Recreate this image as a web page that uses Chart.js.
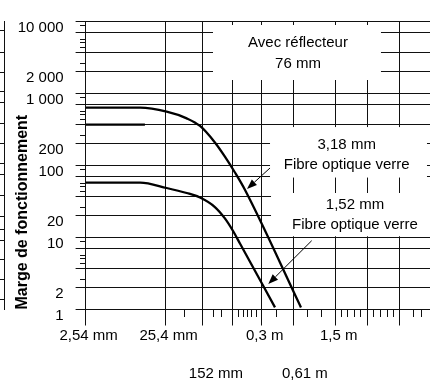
<!DOCTYPE html>
<html><head><meta charset="utf-8">
<script src="https://cdn.jsdelivr.net/npm/chart.js@4"></script>
<style>html,body{margin:0;padding:0;background:#fff}canvas{display:block}</style>
</head><body>
<canvas id="c" width="430" height="382"></canvas>
<script>
// ---------------- data ----------------
const seriesNames = ['3,18 mm Fibre optique verre', '1,52 mm Fibre optique verre', 'Avec réflecteur 76 mm'];
// distance in mm, operating margin (Marge de fonctionnement)
const distanceMM_318 = [2.54, 12.2, 26.2, 46.6, 68.4, 105, 140, 187, 250, 1250];
const margin_318     = [635, 635, 559, 452, 354, 209, 133, 80, 45.7, 1.07];
const distanceMM_152 = [2.54, 12.2, 26.2, 46.6, 68.4, 105, 140, 177, 216, 592];
const margin_152     = [57.7, 57.7, 48.7, 41.5, 35.9, 26.5, 18.4, 12.3, 8.25, 1.07];
const distanceMM_ref = [2.54, 14];
const margin_ref     = [370, 370];

// x axis (distance, mm, logarithmic)
const X_MIN = 2.54, X_MAX = 51270;
const xGridMM     = [2.54, 25.4, 73, 173, 404, 1000, 3400, 8500, 21600];
const xTickLabels = ['2,54 mm', '25,4 mm', '', '', '0,3 m', '', '1,5 m', '', ''];
const xMinorMM    = [44, 100, 128, 210, 238, 267, 300, 350, 610, 1500, 2270, 4040, 4800, 5800, 7000, 10200, 12400, 15000, 17800, 31700, 39600];
const xRow2MM     = [108, 1400];
const xRow2Labels = ['152 mm', '0,61 m'];

// y axis (margin, logarithmic)
const Y_MIN = 1, Y_MAX = 10000;
const yGrid        = [1, 2, 3.7, 7, 10, 20, 37, 70, 100, 200, 370, 700, 1000, 2000, 3700, 7000, 10000];
const yLabelValues = [1, 2, 10, 20, 100, 200, 1000, 2000, 10000];
const yLabelTexts  = ['1', '2', '10', '20', '100', '200', '1 000', '2 000', '10 000'];
const yMinor       = [2.65, 4.4, 5.1, 5.7, 8.7, 26.5, 44, 51, 57, 87, 265, 440, 510, 570, 870, 2650, 4400, 5100, 5700, 8700];
const yOuterTicks  = [7450, 3735, 1970, 1059, 738, 389, 199, 108, 73.8, 38.1, 19.4, 13.1, 9.2, 4.87, 2.57, 1.36];

// annotations (data coordinates: mm, margin)
const noteBoxes = [
  {x0: 99.4, x1: 12500, y0: 1540, y1: 8940},
  {x0: 513,  x1: 47000, y0: 68,   y1: 342},
  {x0: 528,  x1: 51270, y0: 10.4, y1: 41.5}
];
const noteTexts = [
  {x: 1148, y: 5109, t: 'Avec réflecteur'},
  {x: 1148, y: 2569, t: '76 mm'},
  {x: 4662, y: 192.6, t: '3,18 mm'},
  {x: 4662, y: 101.6, t: 'Fibre optique verre'},
  {x: 5921, y: 28.3, t: '1,52 mm'},
  {x: 5921, y: 14.9, t: 'Fibre optique verre'}
];
const noteArrows = [
  {x0: 513,  y0: 92.3, x1: 264.4, y1: 47.2},
  {x0: 1702, y0: 9.03, x1: 488,   y1: 2.26}
];

// ---------------- chart ----------------
const FONT = '"Liberation Sans", Arial, Helvetica, sans-serif';
const INK = '#111';
Chart.defaults.font.family = FONT;
Chart.defaults.font.size = 15;
Chart.defaults.color = '#000';

const notesPlugin = {
  id: 'notes',
  beforeDatasetsDraw(chart) {
    const {ctx, scales: {x, y}} = chart;
    ctx.save();
    ctx.fillStyle = '#fff';
    noteBoxes.forEach(b => {
      const px0 = x.getPixelForValue(b.x0), px1 = x.getPixelForValue(b.x1);
      const py0 = y.getPixelForValue(b.y1), py1 = y.getPixelForValue(b.y0);
      ctx.fillRect(px0, py0, px1 - px0, py1 - py0);
    });
    ctx.restore();
  },
  afterDatasetsDraw(chart) {
    const {ctx, scales: {x, y}} = chart;
    ctx.save();
    ctx.fillStyle = '#000';
    ctx.font = '15px ' + FONT;
    ctx.textAlign = 'center';
    ctx.textBaseline = 'middle';
    noteTexts.forEach(n => ctx.fillText(n.t, x.getPixelForValue(n.x), y.getPixelForValue(n.y)));
    ctx.strokeStyle = '#000';
    ctx.lineWidth = 1;
    noteArrows.forEach(a => {
      const x0 = x.getPixelForValue(a.x0), y0 = y.getPixelForValue(a.y0);
      const x1 = x.getPixelForValue(a.x1), y1 = y.getPixelForValue(a.y1);
      const ang = Math.atan2(y1 - y0, x1 - x0), L = 10, W = 3.8;
      const bx = x1 - L * Math.cos(ang), by = y1 - L * Math.sin(ang);
      ctx.beginPath(); ctx.moveTo(x0, y0); ctx.lineTo(bx, by); ctx.stroke();
      ctx.beginPath();
      ctx.moveTo(x1, y1);
      ctx.lineTo(bx + W * Math.sin(ang), by - W * Math.cos(ang));
      ctx.lineTo(bx - W * Math.sin(ang), by + W * Math.cos(ang));
      ctx.closePath(); ctx.fill();
    });
    ctx.restore();
  }
};

const toPts = (xs, ys) => xs.map((v, i) => ({x: v, y: ys[i]}));
const setTicks = vals => s => { s.ticks = vals.map(v => ({value: v})); };

new Chart(document.getElementById('c'), {
  type: 'line',
  data: {
    datasets: [
      {label: seriesNames[0], data: toPts(distanceMM_318, margin_318), xAxisID: 'x', yAxisID: 'y',
       borderColor: '#000', borderWidth: 2.3, pointRadius: 0, fill: false, cubicInterpolationMode: 'monotone'},
      {label: seriesNames[1], data: toPts(distanceMM_152, margin_152), xAxisID: 'x', yAxisID: 'y',
       borderColor: '#000', borderWidth: 2.3, pointRadius: 0, fill: false, cubicInterpolationMode: 'monotone'},
      {label: seriesNames[2], data: toPts(distanceMM_ref, margin_ref), xAxisID: 'x', yAxisID: 'y',
       borderColor: '#000', borderWidth: 2.3, pointRadius: 0, fill: false, tension: 0}
    ]
  },
  options: {
    responsive: false,
    animation: false,
    devicePixelRatio: 1,
    events: [],
    layout: {padding: {top: 21.5, right: 0, bottom: 0, left: 0}},
    plugins: {legend: {display: false}, tooltip: {enabled: false}},
    scales: {
      x: {
        type: 'logarithmic', position: 'bottom', weight: 0, min: X_MIN, max: X_MAX,
        afterBuildTicks: setTicks(xGridMM),
        afterFit: s => { s.height = 45; },
        grid: {color: INK, lineWidth: 1, drawTicks: true, tickLength: 16, tickColor: INK},
        border: {display: true, color: INK},
        ticks: {autoSkip: false, maxRotation: 0, padding: 1, labelOffset: 3, font: {size: 15},
                callback: (v, i) => xTickLabels[i]}
      },
      x2: {
        type: 'logarithmic', position: 'bottom', weight: 1, min: X_MIN, max: X_MAX,
        afterBuildTicks: setTicks(xRow2MM),
        afterFit: s => { s.height = 27.5; },
        grid: {display: false, drawTicks: false},
        border: {display: false},
        ticks: {autoSkip: false, maxRotation: 0, padding: 10, font: {size: 15},
                callback: (v, i) => xRow2Labels[i]}
      },
      xMinor: {
        type: 'logarithmic', axis: 'x', position: {y: Y_MIN}, min: X_MIN, max: X_MAX,
        afterBuildTicks: setTicks(xMinorMM),
        grid: {drawOnChartArea: false, drawTicks: true, tickLength: 7, tickColor: INK, color: INK},
        border: {display: false},
        ticks: {display: false}
      },
      y: {
        type: 'logarithmic', position: 'left', weight: 0, min: Y_MIN, max: Y_MAX,
        afterBuildTicks: setTicks(yGrid),
        afterFit: s => { s.width = 81.6; },
        grid: {color: INK, lineWidth: 1, drawTicks: true, tickLength: 10, tickColor: INK},
        border: {display: true, color: INK},
        ticks: {autoSkip: false, padding: 12, labelOffset: 6, font: {size: 15},
                callback: v => { const k = yLabelValues.indexOf(v); return k >= 0 ? yLabelTexts[k] : ''; }},
        title: {display: true, text: 'Marge de fonctionnement', align: 'start',
                font: {size: 16, weight: 'bold'}, padding: {top: 9.4, bottom: 0}, color: '#000'}
      },
      yOuter: {
        type: 'logarithmic', position: 'left', weight: 1, min: Y_MIN, max: Y_MAX,
        afterBuildTicks: setTicks(yOuterTicks),
        afterFit: s => { s.width = 4; },
        grid: {drawOnChartArea: false, drawTicks: true, tickLength: 4, tickColor: INK, color: INK},
        border: {display: true, color: INK},
        ticks: {display: false}
      },
      yMinor: {
        type: 'logarithmic', axis: 'y', position: {x: X_MIN}, min: Y_MIN, max: Y_MAX,
        afterBuildTicks: setTicks(yMinor),
        grid: {drawOnChartArea: false, drawTicks: true, tickLength: 6, tickColor: INK, color: INK},
        border: {display: false},
        ticks: {display: false}
      }
    }
  },
  plugins: [notesPlugin]
});
</script>
</body></html>
